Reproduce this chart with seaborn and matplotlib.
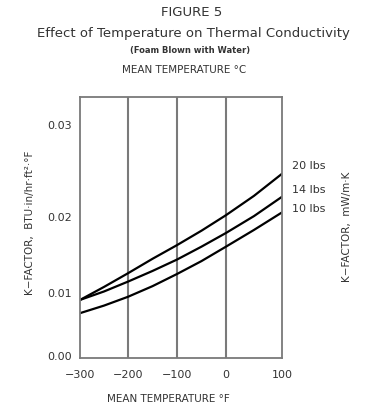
import numpy as np
import pandas as pd
import matplotlib
matplotlib.use("Agg")
import matplotlib.pyplot as plt
import seaborn as sns

# ---- data ----
temps_f = [-300, -250, -200, -150, -100, -50, 0, 50, 100]
k_20lbs = [0.0089, 0.0108, 0.0126, 0.0145, 0.0163, 0.0182, 0.0202, 0.0223, 0.0247]
k_14lbs = [0.0089, 0.0102, 0.0115, 0.0129, 0.0144, 0.0161, 0.0179, 0.0201, 0.0222]
k_10lbs = [0.0068, 0.0080, 0.0094, 0.0109, 0.0125, 0.0142, 0.0161, 0.0183, 0.0205]
series_labels = ["20 lbs", "14 lbs", "10 lbs"]
x_ticks = [-300, -200, -100, 0, 100]
x_ticklabels = ["\u2212300", "\u2212200", "\u2212100", "0", "100"]
y_ticks = [0.00, 0.01, 0.02, 0.03]
y_ticklabels = ["0.00", "0.01", "0.02", "0.03"]

df = pd.DataFrame({
    "temp": temps_f * 3,
    "k": k_20lbs + k_14lbs + k_10lbs,
    "density": sum([[s] * len(temps_f) for s in series_labels], []),
})

sns.set_style("white")
plt.rcParams["font.family"] = ["DejaVu Sans"]

fig = plt.figure(figsize=(3.70, 4.08), dpi=100)
ax = fig.add_axes([80 / 370, 1 - 358 / 408, 202 / 370, 261 / 408])

# piecewise axis scales reproducing the drawing's uneven spacing
xs_d = np.array([-400, -300, -200, -100, 0, 100, 200], float)
xs_p = np.array([-48, 0, 48, 97, 146, 202, 258], float)
ys_d = np.array([-0.01, 0.0, 0.01, 0.02, 0.03, 0.05], float)
ys_p = np.array([-63, 0, 63, 139, 231, 415], float)

ax.set_xscale("function", functions=(lambda v: np.interp(v, xs_d, xs_p),
                                     lambda v: np.interp(v, xs_p, xs_d)))
ax.set_yscale("function", functions=(lambda v: np.interp(v, ys_d, ys_p),
                                     lambda v: np.interp(v, ys_p, ys_d)))

sns.lineplot(data=df, x="temp", y="k", units="density", estimator=None,
             color="black", linewidth=1.6, ax=ax, legend=False)

ax.set_xlim(-300, 100)
ax.set_ylim(np.interp(-2, ys_p, ys_d), np.interp(259, ys_p, ys_d))

for xv in x_ticks[1:-1]:
    ax.axvline(xv, color="#7a7a7a", linewidth=1.5, zorder=0)

ax.set_xticks(x_ticks)
ax.set_xticklabels(x_ticklabels)
ax.set_yticks(y_ticks)
ax.set_yticklabels(y_ticklabels)
ax.minorticks_off()
ax.tick_params(axis="both", length=0, labelsize=8, colors="#333333")
ax.tick_params(axis="x", pad=9)
ax.tick_params(axis="y", pad=6)
for s in ax.spines.values():
    s.set_color("#7a7a7a")
    s.set_linewidth(1.3)
ax.set_xlabel("")
ax.set_ylabel("")

# series labels on the right
label_y = [166, 190, 209]
for lab, py in zip(series_labels, label_y):
    fig.text(292 / 370, 1 - py / 408, lab, fontsize=8, color="#333333",
             ha="left", va="center")

# titles
tc = "#333333"
fig.text(192 / 370, 1 - 12 / 408, "FIGURE 5", fontsize=9.5, ha="center", va="center", color=tc)
fig.text(193 / 370, 1 - 33 / 408, "Effect of Temperature on Thermal Conductivity",
         fontsize=9.5, ha="center", va="center", color=tc)
fig.text(190 / 370, 1 - 51 / 408, "(Foam Blown with Water)", fontsize=6,
         fontweight="bold", ha="center", va="center", color=tc)
fig.text(184 / 370, 1 - 70 / 408, "MEAN TEMPERATURE \u00b0C", fontsize=7.5,
         ha="center", va="center", color=tc)
fig.text(168 / 370, 1 - 399 / 408, "MEAN TEMPERATURE \u00b0F", fontsize=7.5,
         ha="center", va="center", color=tc)
fig.text(30 / 370, 1 - 223 / 408, "K\u2212FACTOR,  BTU\u00b7in/hr\u00b7ft\u00b2\u00b7\u00b0F",
         fontsize=7.5, rotation=90, ha="center", va="center", color=tc)
fig.text(347 / 370, 1 - 227 / 408, "K\u2212FACTOR,  mW/m\u00b7K",
         fontsize=7.5, rotation=90, ha="center", va="center", color=tc)

fig.savefig("out.png", dpi=100, facecolor="white")
